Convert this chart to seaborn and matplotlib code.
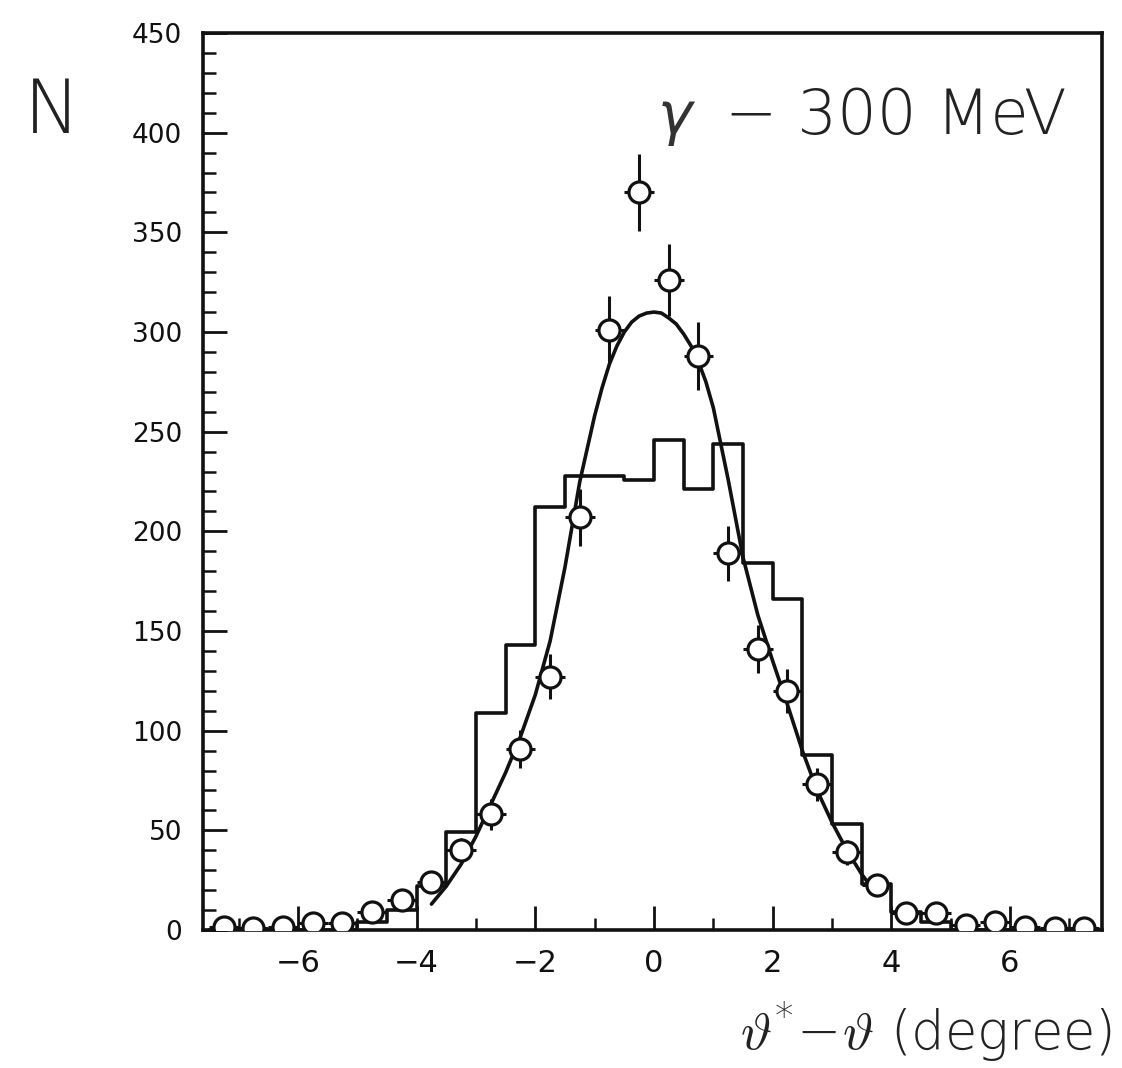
import matplotlib
matplotlib.use("Agg")
import matplotlib.pyplot as plt
import seaborn as sns
import numpy as np
from matplotlib.ticker import MultipleLocator

# ---------------- data ----------------
bin_edges = [-7.5, -7.0, -6.5, -6.0, -5.5, -5.0, -4.5, -4.0, -3.5, -3.0, -2.5,
             -2.0, -1.5, -1.0, -0.5, 0.0, 0.5, 1.0, 1.5, 2.0, 2.5, 3.0, 3.5,
             4.0, 4.5, 5.0, 5.5, 6.0, 6.5, 7.0, 7.5]
bin_centers = [-7.25, -6.75, -6.25, -5.75, -5.25, -4.75, -4.25, -3.75, -3.25,
               -2.75, -2.25, -1.75, -1.25, -0.75, -0.25, 0.25, 0.75, 1.25,
               1.75, 2.25, 2.75, 3.25, 3.75, 4.25, 4.75, 5.25, 5.75, 6.25,
               6.75, 7.25]
hist_counts = [0, 0, 0, 0, 0, 4, 10, 22, 49, 109, 143, 212, 228, 228, 226,
               246, 221, 244, 184, 166, 88, 53, 23, 9, 4, 0, 0, 0, 0, 0]

point_y = [1.5, 1, 1.5, 3.5, 3.5, 9, 15, 24, 40, 58, 91, 127, 207, 301, 370,
           326, 288, 189, 141, 120, 73, 39, 22.6, 8.5, 8.5, 2.5, 4, 1.5, 1, 1]
point_err = [1.2, 1, 1.2, 1.9, 1.9, 3, 3.9, 4.9, 6.3, 7.6, 9.5, 11.3, 14.4,
             17.3, 19.2, 18, 17, 13.7, 11.9, 11, 8.5, 6.2, 4.8, 2.9, 2.9, 1.6,
             2, 1.2, 1, 1]
point_xerr = [0.25] * 30

fit_x = [-3.75, -3.5, -3.25, -3.0, -2.75, -2.5, -2.25, -2.0, -1.75, -1.5,
         -1.25, -1.0, -0.875, -0.75, -0.625, -0.5, -0.375, -0.25, -0.125, 0.0,
         0.125, 0.25, 0.375, 0.5, 0.625, 0.75, 0.875, 1.0, 1.25,
         1.5, 1.75, 2.0, 2.25, 2.5, 2.75, 3.0, 3.25, 3.5, 3.7]
fit_y = [13, 22, 33, 47, 63, 79, 97, 118, 145, 182, 225, 258, 272, 284, 293,
         300, 305, 308, 309.5, 310, 309.5, 307, 304, 299, 293, 285, 275, 262,
         226, 187, 158, 135, 113, 90, 70, 54, 40, 28, 20]

x_ticks = [-6, -4, -2, 0, 2, 4, 6]
y_ticks = [0, 50, 100, 150, 200, 250, 300, 350, 400, 450]

# ---------------- figure ----------------
sns.set_theme(style="white")
plt.rcParams['font.family'] = ['DejaVu Sans']
plt.rcParams['mathtext.fontset'] = 'custom'
plt.rcParams['mathtext.rm'] = 'DejaVu Sans:light'
plt.rcParams['mathtext.it'] = 'DejaVu Sans:italic'
plt.rcParams['mathtext.sf'] = 'DejaVu Sans:light'

fig = plt.figure(figsize=(11.22, 10.68), dpi=100, facecolor="white")
ax = fig.add_axes([203/1122, 1 - 930/1068, (1102 - 203)/1122, (930 - 33)/1068])
ax.set_facecolor("white")

LW = 2.6
# histogram
sns.histplot(x=bin_centers, weights=hist_counts, bins=bin_edges,
             element="step", fill=False, color="#111111", linewidth=LW, ax=ax)

# fitted curve
sns.lineplot(x=fit_x, y=fit_y, color="#111111", linewidth=LW, ax=ax)

# error bars + points
ax.errorbar(bin_centers, point_y, yerr=point_err, xerr=point_xerr, fmt="none",
            ecolor="#111111", elinewidth=2.2, capsize=0, zorder=4)
sns.scatterplot(x=bin_centers, y=point_y, s=230, color="white",
                edgecolor="#111111", linewidth=2.3, zorder=5, ax=ax)

ax.set_xlim(-7.6, 7.55)
ax.set_ylim(0, 450)
ax.set_xticks(x_ticks)
ax.set_yticks(y_ticks)
ax.set_xticklabels([f"{t}".replace("-", "\u2212") for t in x_ticks])
ax.set_yticklabels([str(t) for t in y_ticks])
ax.xaxis.set_minor_locator(MultipleLocator(1))
ax.yaxis.set_minor_locator(MultipleLocator(10))
ax.tick_params(which="major", direction="in", length=17, width=2.0,
               bottom=True, left=True, top=False, right=False, colors="#111111")
ax.tick_params(which="minor", direction="in", length=9, width=1.8,
               bottom=True, left=True, top=False, right=False, colors="#111111")
ax.tick_params(axis="y", labelsize=19, pad=15)
ax.tick_params(axis="x", labelsize=22, pad=14)
ax.set_xlabel("")
ax.set_ylabel("")
for sp in ax.spines.values():
    sp.set_linewidth(2.6)
    sp.set_color("#111111")
    sp.set_visible(True)

# texts
fig.text(1067/1122, 1 - 134/1068, "\u2212 300 MeV", ha="right",
         va="baseline", fontsize=45, color="#222222", fontweight="light")
fig.text(692/1122, 1 - 134/1068, "\u03b3", ha="right", va="baseline",
         fontsize=42, color="#333333", fontstyle="italic")
fig.text(52/1122, 1 - 112/1068, "N", ha="center", va="center", fontsize=54,
         color="#222222", fontweight="light")
fig.text(1112/1122, 1 - 1050/1068,
         r"$\mathrm{\vartheta^{*}\!-\!\vartheta}$ (degree)",
         ha="right", va="baseline", fontsize=38, color="#222222",
         fontweight="light")

fig.savefig("out.png", dpi=100, facecolor="white")
